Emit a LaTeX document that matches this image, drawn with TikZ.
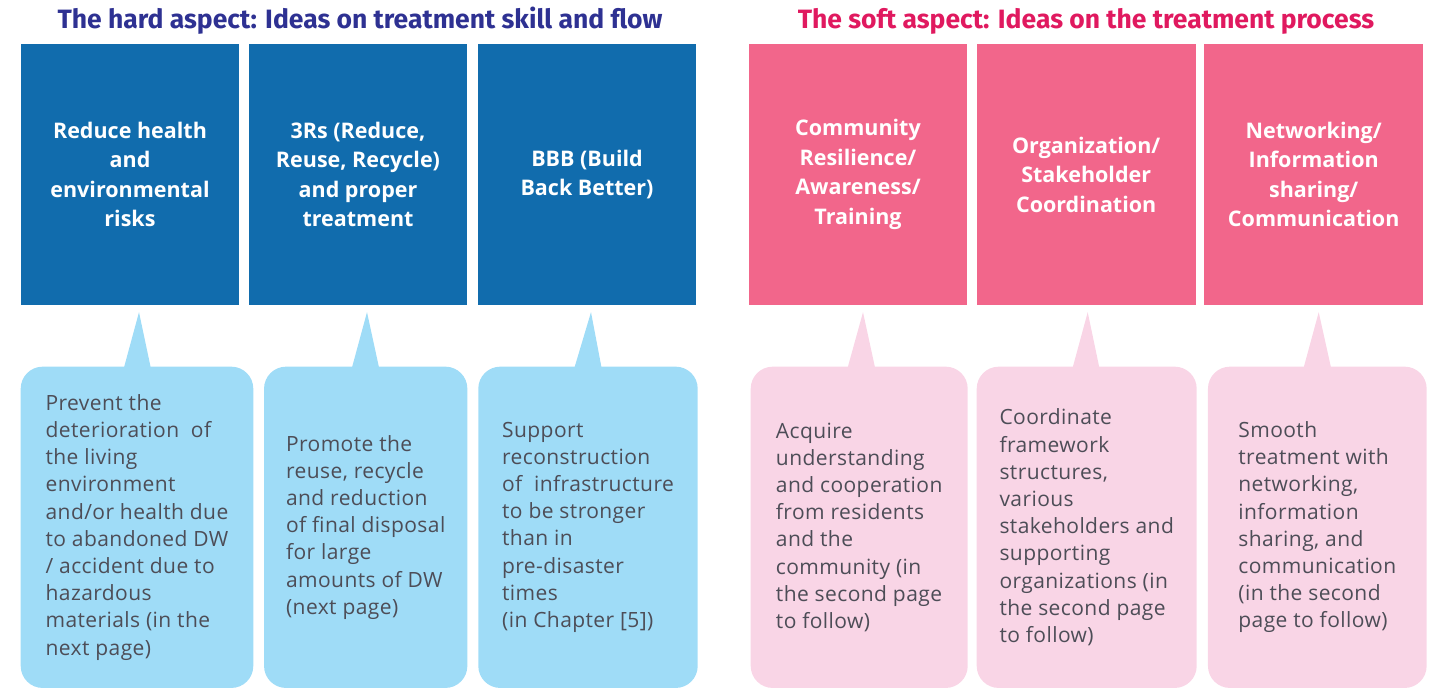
\documentclass[tikz,border=0pt]{standalone}
\usepackage{fontspec}
\setmainfont{Open Sans}
\newfontfamily\headfont{Fira Sans}
\newfontfamily\notefont[LetterSpace=2.0]{Open Sans}
\usepackage{xcolor}
\usepackage{tikz}
\usetikzlibrary{calc}

\definecolor{hardblue}{RGB}{17,108,173}
\definecolor{softpink}{RGB}{242,102,139}
\definecolor{hardlight}{RGB}{159,220,247}
\definecolor{softlight}{RGB}{249,213,230}
\definecolor{notegray}{RGB}{77,77,87}
\definecolor{hardhead}{RGB}{46,49,146}
\definecolor{softhead}{RGB}{224,25,95}

\begin{document}
\begin{tikzpicture}[x=1pt, y=-1pt,
    headline/.style={font=\headfont\bfseries\fontsize{26.5}{30}\selectfont, inner sep=0pt},
    aspectbox/.style={minimum width=218.6pt, minimum height=261pt, inner sep=0pt,
        align=center, text=white, font=\bfseries\fontsize{21.5}{29.5}\selectfont},
    notebox/.style={rounded corners=22pt, minimum height=321.3pt, inner sep=0pt,
        align=left, text=notegray, font=\notefont\fontsize{21}{27.2}\selectfont}]

\useasboundingbox (0,0) rectangle (1429,691);

% headings
\node[headline, text=hardhead] (hardhead) at (360,21) {The hard aspect: Ideas on treatment skill and flow};
\node[headline, text=softhead] (softhead) at (1086,21) {The soft aspect: Ideas on the treatment process};

% the hard aspect
\node[aspectbox, fill=hardblue] (hard1) at (130,174.5) {Reduce health\\and\\environmental\\risks};
\node[aspectbox, fill=hardblue] (hard2) at (358,174.5) {3Rs (Reduce,\\Reuse, Recycle)\\and proper\\treatment};
\node[aspectbox, fill=hardblue] (hard3) at (587,174.5) {BBB (Build\\Back Better)};

% the soft aspect
\node[aspectbox, fill=softpink] (soft1) at (858,174.5) {Community\\Resilience/\\Awareness/\\Training};
\node[aspectbox, fill=softpink] (soft2) at (1086.2,174.5) {Organization/\\Stakeholder\\Coordination};
\node[aspectbox, fill=softpink] (soft3) at (1313.7,174.5) {Networking/\\Information\\sharing/\\Communication};

% notes
\node[notebox, fill=hardlight, minimum width=232.6pt] (note1) at (137,527.3)
  {Prevent the\\deterioration~ of\\the living\\environment\\and/or health due\\to abandoned DW\\/ accident due to\\hazardous\\materials (in the\\next page)};
\node[notebox, fill=hardlight, minimum width=203.3pt] (note2) at (365.7,527.3)
  {Promote the\\reuse, recycle\\and reduction\\of final disposal\\for large\\amounts of DW\\(next page)};
\node[notebox, fill=hardlight, minimum width=219.4pt] (note3) at (588,527.3)
  {Support\\reconstruction\\of~ infrastructure\\to be stronger\\than in\\pre-disaster\\times\\(in Chapter [5])};
\node[notebox, fill=softlight, minimum width=217pt] (note4) at (859.2,527.3)
  {Acquire\\understanding\\and cooperation\\from residents\\and the\\community (in\\the second page\\to follow)};
\node[notebox, fill=softlight, minimum width=220pt] (note5) at (1086.7,527.3)
  {Coordinate\\framework\\structures,\\various\\stakeholders and\\supporting\\organizations (in\\the second page\\to follow)};
\node[notebox, fill=softlight, minimum width=218.7pt] (note6) at (1317.3,527.3)
  {Smooth\\treatment with\\networking,\\information\\sharing, and\\communication\\(in the second\\page to follow)};

% pointers
\fill[hardlight] ([xshift=9pt, yshift=-7pt]hard1.south) -- ([xshift=-13pt, yshift=-1pt]note1.north) -- ([xshift=13.7pt, yshift=-1pt]note1.north) -- cycle;
\fill[hardlight] ([xshift=9pt, yshift=-7pt]hard2.south) -- ([xshift=-13.7pt, yshift=-1pt]note2.north) -- ([xshift=13.3pt, yshift=-1pt]note2.north) -- cycle;
\fill[hardlight] ([xshift=4pt, yshift=-7pt]hard3.south) -- ([xshift=-13.5pt, yshift=-1pt]note3.north) -- ([xshift=13.5pt, yshift=-1pt]note3.north) -- cycle;
\fill[softlight] ([xshift=5pt, yshift=-7pt]soft1.south) -- ([xshift=-11.5pt, yshift=-1pt]note4.north) -- ([xshift=15.8pt, yshift=-1pt]note4.north) -- cycle;
\fill[softlight] ([xshift=1.5pt, yshift=-7pt]soft2.south) -- ([xshift=-14pt, yshift=-1pt]note5.north) -- ([xshift=12.6pt, yshift=-1pt]note5.north) -- cycle;
\fill[softlight] ([xshift=5pt, yshift=-7pt]soft3.south) -- ([xshift=-13.6pt, yshift=-1pt]note6.north) -- ([xshift=13.7pt, yshift=-1pt]note6.north) -- cycle;

\end{tikzpicture}
\end{document}
